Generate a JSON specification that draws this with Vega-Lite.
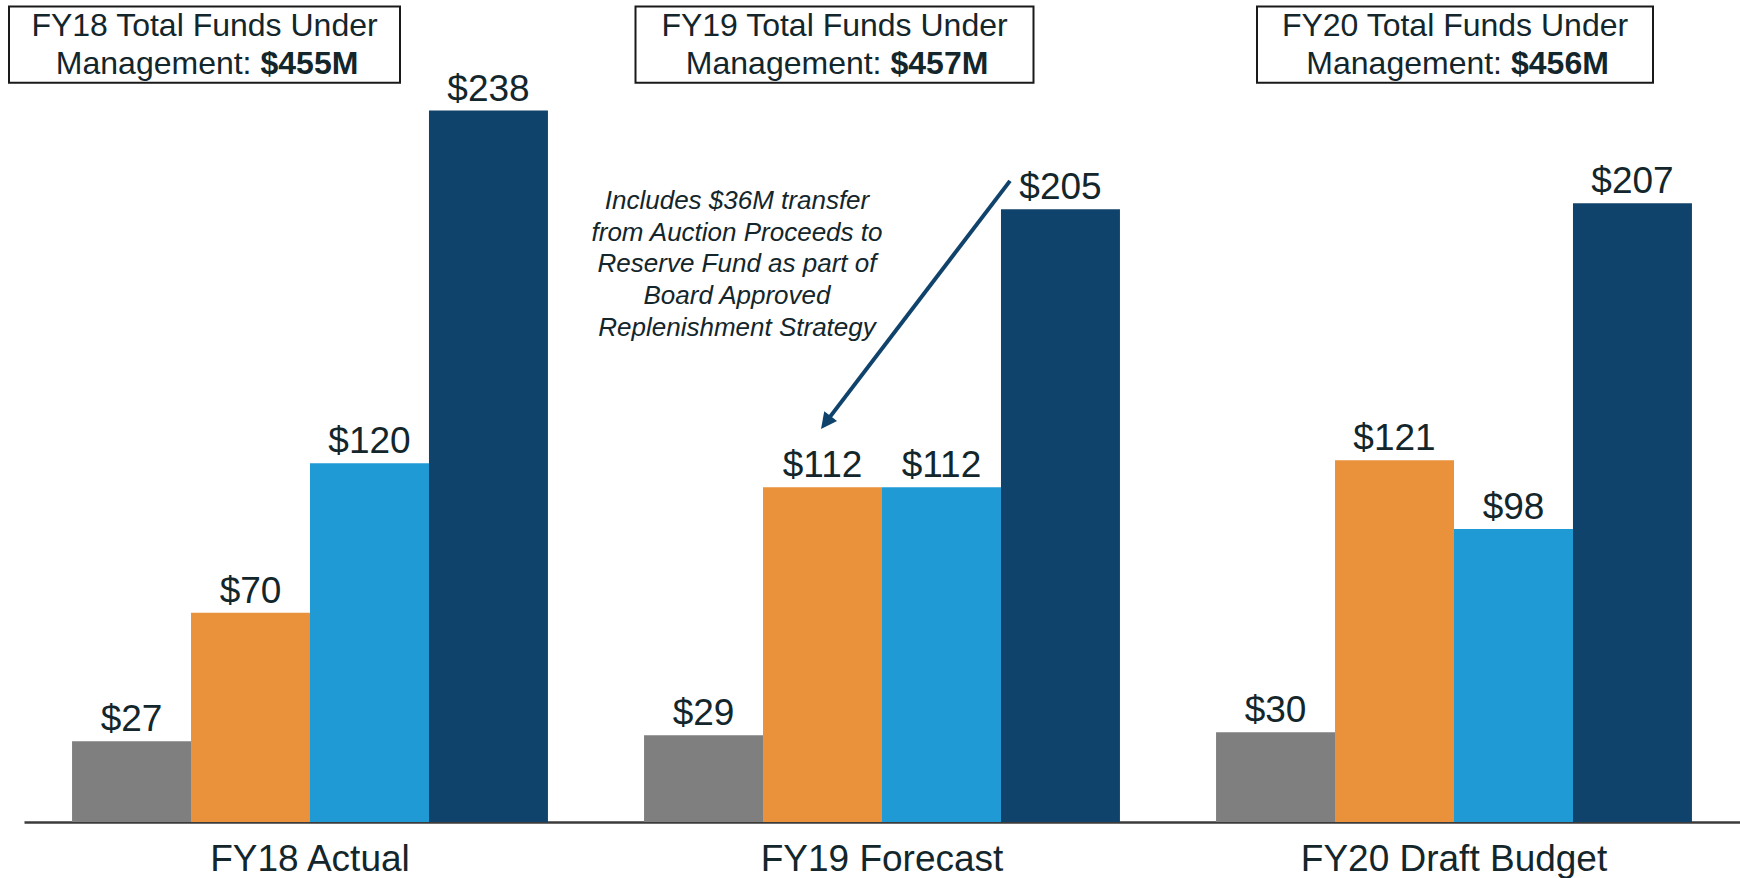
{
  "$schema": "https://vega.github.io/schema/vega-lite/v6.json",
  "width": 1716,
  "height": 822,
  "autosize": {"type": "none"},
  "padding": {"left": 24, "top": 0, "right": 0, "bottom": 56},
  "background": "white",
  "config": {"view": {"stroke": null}, "font": "Liberation Sans", "text": {"font": "Liberation Sans"}},
  "datasets": {
    "funds": [
      {"group": "FY18 Actual", "series": "Series 1", "value": 27},
      {"group": "FY18 Actual", "series": "Series 2", "value": 70},
      {"group": "FY18 Actual", "series": "Series 3", "value": 120},
      {"group": "FY18 Actual", "series": "Series 4", "value": 238},
      {"group": "FY19 Forecast", "series": "Series 1", "value": 29},
      {"group": "FY19 Forecast", "series": "Series 2", "value": 112},
      {"group": "FY19 Forecast", "series": "Series 3", "value": 112},
      {"group": "FY19 Forecast", "series": "Series 4", "value": 205},
      {"group": "FY20 Draft Budget", "series": "Series 1", "value": 30},
      {"group": "FY20 Draft Budget", "series": "Series 2", "value": 121},
      {"group": "FY20 Draft Budget", "series": "Series 3", "value": 98},
      {"group": "FY20 Draft Budget", "series": "Series 4", "value": 207}
    ],
    "boxes": [
      {"group": "FY18 Actual", "line1": "FY18 Total Funds Under", "line2": "Management:", "total": 455},
      {"group": "FY19 Forecast", "line1": "FY19 Total Funds Under", "line2": "Management:", "total": 457},
      {"group": "FY20 Draft Budget", "line1": "FY20 Total Funds Under", "line2": "Management:", "total": 456}
    ],
    "note": [
      {"group": "FY19 Forecast", "text": "Includes $36M transfer\nfrom Auction Proceeds to\nReserve Fund as part of\nBoard Approved\nReplenishment Strategy"}
    ],
    "arrow": [{"label": "arrow"}]
  },
  "resolve": {"scale": {"x": "independent"}},
  "layer": [
    {
      "encoding": {
        "x": {
          "field": "group", "type": "nominal",
          "sort": ["FY18 Actual", "FY19 Forecast", "FY20 Draft Budget"],
          "scale": {"paddingInner": 0.168, "paddingOuter": 0.084},
          "title": null,
          "axis": {"orient": "bottom", "domainColor": "#3b3b3b", "domainWidth": 2.5, "ticks": false, "grid": false, "labelFontSize": 37, "labelColor": "#13262B", "labelPadding": 19, "labelFont": "Liberation Sans", "labelAngle": 0, "labelLimit": 0}
        }
      },
      "layer": [
        {
          "data": {"name": "funds"},
          "mark": {"type": "bar"},
          "encoding": {
            "xOffset": {"field": "series", "type": "nominal", "sort": ["Series 1", "Series 2", "Series 3", "Series 4"], "scale": {"paddingInner": 0, "paddingOuter": 0}},
            "y": {"field": "value", "type": "quantitative", "scale": {"domain": [0, 275], "nice": false, "zero": true}, "axis": null},
            "color": {"field": "series", "type": "nominal", "scale": {"domain": ["Series 1", "Series 2", "Series 3", "Series 4"], "range": ["#7F7F7F", "#E9913B", "#1F9AD5", "#10436B"]}, "legend": null}
          }
        },
        {
          "data": {"name": "funds"},
          "mark": {"type": "text", "fontSize": 37, "color": "#13262B", "baseline": "alphabetic", "dy": -10, "align": "center"},
          "encoding": {
            "xOffset": {"field": "series", "type": "nominal", "sort": ["Series 1", "Series 2", "Series 3", "Series 4"]},
            "y": {"field": "value", "type": "quantitative", "axis": null},
            "text": {"field": "value", "type": "quantitative", "format": "$,.0f"}
          }
        },
        {
          "data": {"name": "boxes"},
          "transform": [{"filter": "datum.group === 'FY18 Actual'"}, {"calculate": "'$' + datum.total + 'M'", "as": "totalLabel"}],
          "layer": [
            {"mark": {"type": "rect", "width": 391, "xOffset": -105.5, "fill": "white", "stroke": "#1a1a1a", "strokeWidth": 2}, "encoding": {"y": {"datum": 272.8, "type": "quantitative", "axis": null}, "y2": {"datum": 247.3}}},
            {"mark": {"type": "text", "xOffset": -105.5, "fontSize": 32, "align": "center", "baseline": "alphabetic", "color": "#13262B"}, "encoding": {"y": {"datum": 263, "type": "quantitative", "axis": null}, "text": {"field": "line1"}}},
            {"mark": {"type": "text", "xOffset": -58.5, "fontSize": 32, "align": "right", "baseline": "alphabetic", "color": "#13262B"}, "encoding": {"y": {"datum": 250.2, "type": "quantitative", "axis": null}, "text": {"field": "line2"}}},
            {"mark": {"type": "text", "xOffset": -49.5, "fontSize": 32, "fontWeight": "bold", "align": "left", "baseline": "alphabetic", "color": "#13262B"}, "encoding": {"y": {"datum": 250.2, "type": "quantitative", "axis": null}, "text": {"field": "totalLabel"}}}
          ]
        },
        {
          "data": {"name": "boxes"},
          "transform": [{"filter": "datum.group === 'FY19 Forecast'"}, {"calculate": "'$' + datum.total + 'M'", "as": "totalLabel"}],
          "layer": [
            {"mark": {"type": "rect", "width": 398, "xOffset": -47.5, "fill": "white", "stroke": "#1a1a1a", "strokeWidth": 2}, "encoding": {"y": {"datum": 272.8, "type": "quantitative", "axis": null}, "y2": {"datum": 247.3}}},
            {"mark": {"type": "text", "xOffset": -47.5, "fontSize": 32, "align": "center", "baseline": "alphabetic", "color": "#13262B"}, "encoding": {"y": {"datum": 263, "type": "quantitative", "axis": null}, "text": {"field": "line1"}}},
            {"mark": {"type": "text", "xOffset": -0.5, "fontSize": 32, "align": "right", "baseline": "alphabetic", "color": "#13262B"}, "encoding": {"y": {"datum": 250.2, "type": "quantitative", "axis": null}, "text": {"field": "line2"}}},
            {"mark": {"type": "text", "xOffset": 8.5, "fontSize": 32, "fontWeight": "bold", "align": "left", "baseline": "alphabetic", "color": "#13262B"}, "encoding": {"y": {"datum": 250.2, "type": "quantitative", "axis": null}, "text": {"field": "totalLabel"}}}
          ]
        },
        {
          "data": {"name": "boxes"},
          "transform": [{"filter": "datum.group === 'FY20 Draft Budget'"}, {"calculate": "'$' + datum.total + 'M'", "as": "totalLabel"}],
          "layer": [
            {"mark": {"type": "rect", "width": 396, "xOffset": 1, "fill": "white", "stroke": "#1a1a1a", "strokeWidth": 2}, "encoding": {"y": {"datum": 272.8, "type": "quantitative", "axis": null}, "y2": {"datum": 247.3}}},
            {"mark": {"type": "text", "xOffset": 1, "fontSize": 32, "align": "center", "baseline": "alphabetic", "color": "#13262B"}, "encoding": {"y": {"datum": 263, "type": "quantitative", "axis": null}, "text": {"field": "line1"}}},
            {"mark": {"type": "text", "xOffset": 48, "fontSize": 32, "align": "right", "baseline": "alphabetic", "color": "#13262B"}, "encoding": {"y": {"datum": 250.2, "type": "quantitative", "axis": null}, "text": {"field": "line2"}}},
            {"mark": {"type": "text", "xOffset": 57, "fontSize": 32, "fontWeight": "bold", "align": "left", "baseline": "alphabetic", "color": "#13262B"}, "encoding": {"y": {"datum": 250.2, "type": "quantitative", "axis": null}, "text": {"field": "totalLabel"}}}
          ]
        },
        {
          "data": {"name": "note"},
          "mark": {"type": "text", "fontSize": 26, "fontStyle": "italic", "lineBreak": "\n", "lineHeight": 31.7, "align": "center", "baseline": "middle", "xOffset": -145, "color": "#13262B"},
          "encoding": {"y": {"datum": 207.8, "type": "quantitative", "axis": null}, "text": {"field": "text"}}
        }
      ]
    },
    {
      "data": {"name": "arrow"},
      "layer": [
        {
          "mark": {"type": "rule", "color": "#10436B", "strokeWidth": 4},
          "encoding": {
            "x": {"datum": 1.7238, "type": "quantitative", "scale": {"domain": [0, 3], "nice": false, "zero": false}, "axis": null},
            "x2": {"datum": 1.4017},
            "y": {"datum": 214.5, "type": "quantitative", "axis": null},
            "y2": {"datum": 133.7}
          }
        },
        {
          "mark": {"type": "point", "shape": "M0,0L-0.5,1L0.5,1Z", "size": 1024, "angle": 217, "filled": true, "color": "#10436B", "opacity": 1, "strokeWidth": 0},
          "encoding": {
            "x": {"datum": 1.3934, "type": "quantitative"},
            "y": {"datum": 131.5, "type": "quantitative"}
          }
        }
      ]
    }
  ]
}
